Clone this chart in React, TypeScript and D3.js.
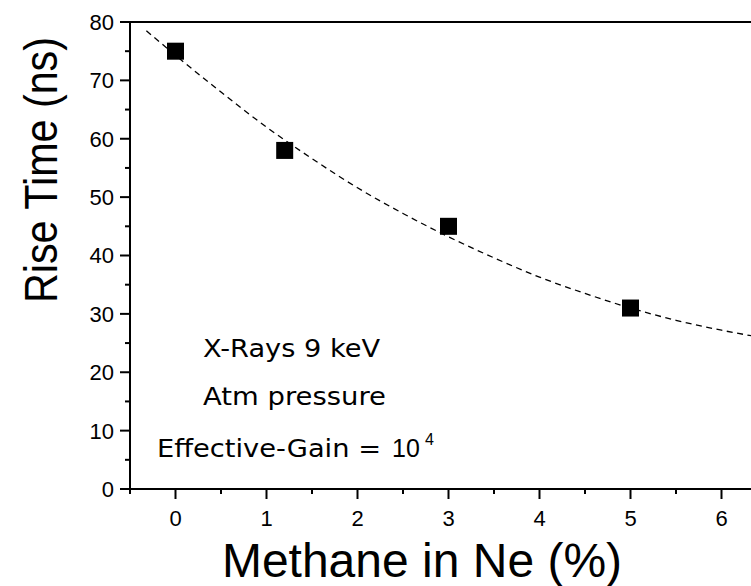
import React from "react";
import * as d3 from "d3";

// Measured data points
const methane = [0, 1.2, 3, 5];
const riseTime = [75, 58, 45, 31];

// Dashed fit curve
const fitX = [-0.32, 0, 0.5, 1, 1.5, 2, 2.5, 3, 3.5, 4, 4.5, 5, 5.5, 6, 6.5];
const fitY = [78.5, 74.3, 68.0, 62.0, 56.6, 51.6, 47.2, 43.2, 39.6, 36.3, 33.5, 31.0, 28.9, 27.2, 25.8];

const xMajorTicks = [0, 1, 2, 3, 4, 5, 6];
const xMinorTicks = [-0.5, 0.5, 1.5, 2.5, 3.5, 4.5, 5.5, 6.5];
const yMajorTicks = [0, 10, 20, 30, 40, 50, 60, 70, 80];
const yMinorTicks = [5, 15, 25, 35, 45, 55, 65, 75];

const annotations = ["X-Rays 9 keV", "Atm pressure", "Effective-Gain ="];

const W = 751;
const H = 586;

export default function App() {
  const x = d3.scaleLinear().domain([-0.5, 6.5]).range([130, 767]);
  const y = d3.scaleLinear().domain([0, 80]).range([489, 22]);
  const left = x(-0.5);
  const bottom = y(0);
  const top = y(80);

  const fitData = fitX.map((v, i) => [v, fitY[i]] as [number, number]);
  const line = d3
    .line<[number, number]>()
    .x((d) => x(d[0]))
    .y((d) => y(d[1]))
    .curve(d3.curveMonotoneX);

  const sq = 17;
  const tickFont = "'Liberation Sans', Arial, sans-serif";
  const noteFont = "'DejaVu Sans', sans-serif";

  return (
    <svg
      width={W}
      height={H}
      style={{ position: "absolute", left: 0, top: 0, background: "#fff" }}
    >
      <rect x={0} y={0} width={W} height={H} fill="#fff" />
      {/* fit curve */}
      <path
        d={line(fitData) || ""}
        fill="none"
        stroke="#000"
        strokeWidth={1.3}
        strokeDasharray="6,4.5"
      />
      {/* data markers */}
      {methane.map((m, i) => (
        <rect
          key={i}
          x={x(m) - sq / 2}
          y={y(riseTime[i]) - sq / 2}
          width={sq}
          height={sq}
          fill="#000"
        />
      ))}
      {/* axes lines */}
      <line x1={left} y1={top} x2={W + 5} y2={top} stroke="#000" strokeWidth={2} />
      <line x1={left} y1={bottom} x2={W + 5} y2={bottom} stroke="#000" strokeWidth={2} />
      <line x1={left} y1={top - 1} x2={left} y2={bottom + 1} stroke="#000" strokeWidth={2} />
      {/* y ticks */}
      {yMajorTicks.map((t) => (
        <g key={"ym" + t}>
          <line x1={left - 10} x2={left} y1={y(t)} y2={y(t)} stroke="#000" strokeWidth={2} />
          <text
            x={114}
            y={y(t)}
            dy="0.36em"
            textAnchor="end"
            fontFamily={tickFont}
            fontSize={22}
            fill="#000"
          >
            {t}
          </text>
        </g>
      ))}
      {yMinorTicks.map((t) => (
        <line key={"yn" + t} x1={left - 5} x2={left} y1={y(t)} y2={y(t)} stroke="#000" strokeWidth={2} />
      ))}
      {/* x ticks */}
      {xMajorTicks.map((t) => (
        <g key={"xm" + t}>
          <line x1={x(t)} x2={x(t)} y1={bottom} y2={bottom + 10} stroke="#000" strokeWidth={2} />
          <text
            x={x(t)}
            y={526}
            textAnchor="middle"
            fontFamily={tickFont}
            fontSize={22}
            fill="#000"
          >
            {t}
          </text>
        </g>
      ))}
      {xMinorTicks.map((t) => (
        <line key={"xn" + t} x1={x(t)} x2={x(t)} y1={bottom} y2={bottom + 5} stroke="#000" strokeWidth={2} />
      ))}
      {/* axis titles */}
      <text
        x={422}
        y={577}
        textAnchor="middle"
        fontFamily={tickFont}
        fontSize={48}
        fill="#000"
      >
        Methane in Ne (%)
      </text>
      <text
        transform={`translate(57, 170) rotate(-90)`}
        textAnchor="middle"
        fontFamily={tickFont}
        fontSize={46}
        fill="#000"
        textLength={266}
        lengthAdjust="spacingAndGlyphs"
      >
        Rise Time (ns)
      </text>
      {/* annotations */}
      <text x={203} y={357} fontFamily={noteFont} fontSize={25} fill="#000" textLength={177} lengthAdjust="spacingAndGlyphs">
        {annotations[0]}
      </text>
      <text x={203} y={405} fontFamily={noteFont} fontSize={25} fill="#000" textLength={183} lengthAdjust="spacingAndGlyphs">
        {annotations[1]}
      </text>
      <text x={157} y={457} fontFamily={noteFont} fontSize={25} fill="#000" textLength={224} lengthAdjust="spacingAndGlyphs">
        {annotations[2]}
      </text>
      <text x={392} y={457} fontFamily={tickFont} fontSize={25} fill="#000">
        10
      </text>
      <text x={425} y={445} fontFamily={tickFont} fontSize={16} fill="#000">
        4
      </text>
    </svg>
  );
}
